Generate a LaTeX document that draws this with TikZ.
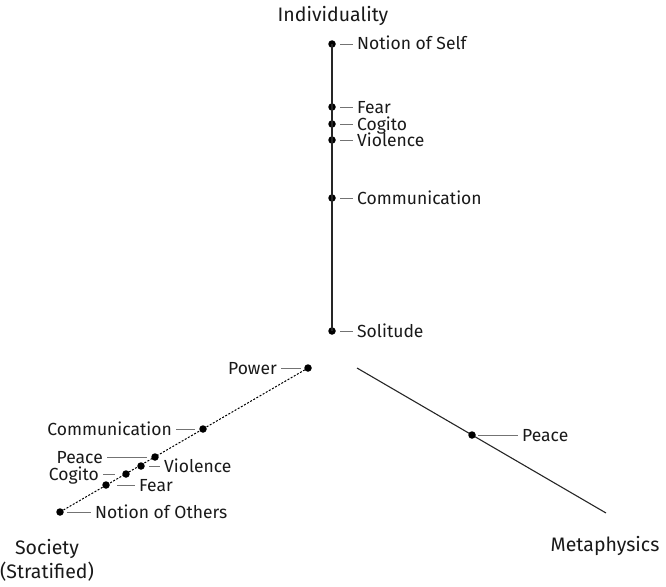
\documentclass[tikz,border=0pt]{standalone}
\usepackage{fontspec}
\setmainfont{Fira Sans}
\begin{document}
\begin{tikzpicture}[x=1pt,y=-1pt,
  every node/.style={font=\fontsize{17.5}{20}\selectfont, text=black!90},
  dot/.style={circle, fill=black, inner sep=0pt, minimum size=7.5pt},
  lab/.style={inner xsep=4pt, inner ysep=0pt, text height=12pt, text depth=0pt},
  tick/.style={draw=black!55, line width=0.8pt, shorten <=8pt},
  axis/.style={draw=black!85, line width=1.3pt},
  dashaxis/.style={draw=black, line width=1pt, dash pattern=on 2pt off 1.6pt},
  head/.style={font=\fontsize{19.5}{24}\selectfont, align=center}]
\useasboundingbox (0,0) rectangle (666,586);

% Individuality axis
\node[head] (ind) at (333,16) {Individuality};
\node[dot] (s1) at (332,44) {};
\node[dot] (s2) at (332,107) {};
\node[dot] (s3) at (332,124) {};
\node[dot] (s4) at (332,140) {};
\node[dot] (s5) at (332,198) {};
\node[dot] (s6) at (332,331) {};
\draw[axis] (s1.center) -- (s6.center);
\node[lab, anchor=west] (ls1) at (353,44) {Notion of Self};
\node[lab, anchor=west] (ls2) at (353,107) {Fear};
\node[lab, anchor=west] (ls3) at (353,124) {Cogito};
\node[lab, anchor=west] (ls4) at (353,140) {Violence};
\node[lab, anchor=west] (ls5) at (353,198) {Communication};
\node[lab, anchor=west] (ls6) at (353,331) {Solitude};
\foreach \i in {1,...,6} \draw[tick] (s\i.center) -- (ls\i.west);

% Metaphysics axis
\coordinate (m0) at (357,368);
\coordinate (m1) at (606,513);
\draw[axis, line width=1.1pt] (m0) -- (m1);
\node[dot] (mp) at (472,435) {};
\node[lab, anchor=west] (lmp) at (518,435) {Peace};
\draw[tick, shorten <=6pt] (mp.center) -- (lmp.west);
\node[head] (met) at (605,546) {Metaphysics};

% Society axis
\node[dot] (o1) at (308,368) {};
\node[dot] (o2) at (203,429) {};
\node[dot] (o3) at (155,457) {};
\node[dot] (o4) at (141,466) {};
\node[dot] (o5) at (126,474) {};
\node[dot] (o6) at (106,485) {};
\node[dot] (o7) at (60,512) {};
\draw[dashaxis] (o1.center) -- (o7.center);
\node[lab, anchor=east] (lo1) at (281,368) {Power};
\node[lab, anchor=east] (lo2) at (176,429) {Communication};
\node[lab, anchor=east] (lo3) at (107,457) {Peace};
\node[lab, anchor=west] (lo4) at (160,466) {Violence};
\node[lab, anchor=east] (lo5) at (103,474) {Cogito};
\node[lab, anchor=west] (lo6) at (135,485) {Fear};
\node[lab, anchor=west] (lo7) at (91,512) {Notion of Others};
\draw[tick, shorten <=7pt] (o1.center) -- (lo1.east);
\draw[tick] (o2.center) -- (lo2.east);
\draw[tick] (o3.center) -- (lo3.east);
\draw[tick] (o4.center) -- (lo4.west);
\draw[tick, shorten <=11pt] (o5.center) -- (lo5.east);
\draw[tick, shorten <=11pt] (o6.center) -- (lo6.west);
\draw[tick, shorten <=7pt] (o7.center) -- (lo7.west);
\node[head] (soc) at (47,560) {Society\\(Stratified)};
\end{tikzpicture}
\end{document}
